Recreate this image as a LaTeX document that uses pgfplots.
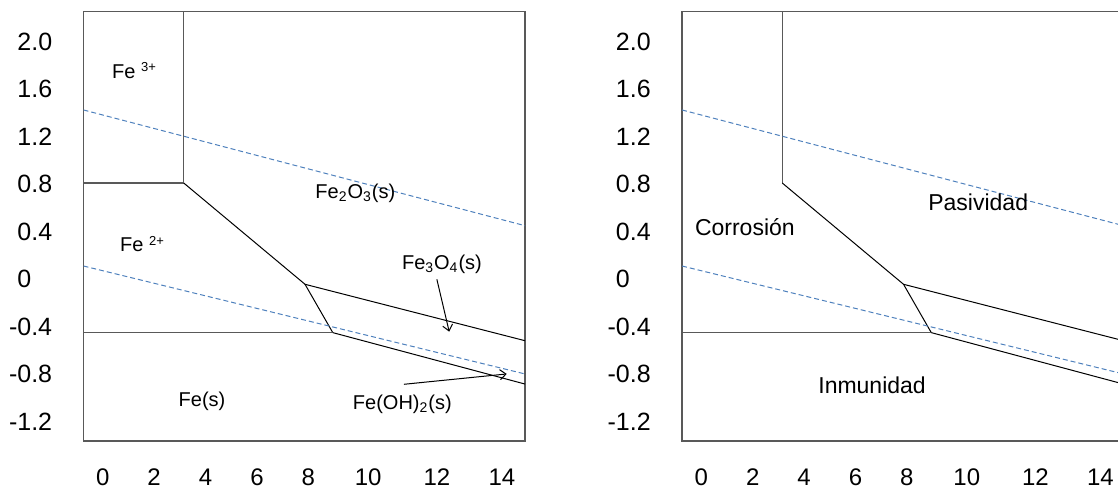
\documentclass[border=0pt]{standalone}
\usepackage{fontspec}
\setmainfont{Liberation Sans}
\usepackage{pgfplots}
\pgfplotsset{compat=1.18}
\usetikzlibrary{arrows.meta}

\definecolor{frame}{RGB}{89,89,89}
\definecolor{water}{RGB}{79,129,189}

% superscript charge as in the drawing: "Fe 3+"
\newcommand{\ion}[1]{Fe\ \raisebox{3.2pt}{\fontsize{6.5}{7}\selectfont #1}}

\tikzset{
  lab/.style={anchor=base west, inner sep=0pt, font=\fontsize{10}{12}\selectfont},
  region/.style={anchor=base west, inner sep=0pt, font=\fontsize{11.5}{13}\selectfont},
}

\pgfplotsset{
  pourbaix/.style={
    anchor=south west,
    scale only axis,
    width=220.75pt, height=214.65pt,
    xmin=-0.75, xmax=16.43,
    ymin=-1.3625, ymax=2.2526,
    axis line style={draw=frame, line width=0.6pt},
    major tick length=0pt,
    tick label style={inner sep=0pt},
    xtick={0,2,4,6,8,10.33,13.0,15.53},
    xticklabels={0,2,4,6,8,10,12,14},
    xticklabel style={anchor=north, yshift=-13.75pt, font=\fontsize{12}{14}\selectfont},
    ytick={-1.2,-0.8,-0.4,0,0.4,0.8,1.2,1.6,2.0},
    yticklabels={\llap{-}1.2,\llap{-}0.8,\llap{-}0.4,0,0.4,0.8,1.2,1.6,2.0},
    yticklabel style={anchor=west, xshift=-33.25pt, font=\fontsize{12.5}{14}\selectfont},
  },
  bnd/.style={draw=frame, line width=0.6pt, no marks},
  diag/.style={draw=black, line width=0.5pt, no marks},
  h2o/.style={draw=water, line width=0.5pt, dash pattern=on 2.5pt off 1.5pt, no marks},
}

\begin{document}
\begin{tikzpicture}

% ---- left: species ----
\begin{axis}[pourbaix, at={(41.75pt,24.5pt)}]
\addplot[bnd] coordinates {(3.15,2.3) (3.15,0.81)};
\addplot[bnd] coordinates {(-0.75,0.81) (3.15,0.81)};
\addplot[diag] coordinates {(3.15,0.81) (7.87,-0.043) (8.95,-0.45)};
\addplot[bnd] coordinates {(-0.75,-0.45) (8.95,-0.45)};
\addplot[diag] coordinates {(7.87,-0.043) (16.43,-0.518)};
\addplot[diag] coordinates {(8.95,-0.45) (16.43,-0.883)};
\addplot[h2o] coordinates {(-0.75,1.425) (16.43,0.4505)};
\addplot[h2o] coordinates {(-0.75,0.111) (16.43,-0.798)};

\node[lab] at (axis cs:0.35,1.694) {\ion{3+}};
\node[lab] at (axis cs:0.66,0.232) {\ion{2+}};
\node[lab] at (axis cs:2.94,-1.074) {Fe(s)};
\node[lab] at (axis cs:8.26,0.681) {Fe\textsubscript{2}O\textsubscript{3}(s)};
\node[lab] at (axis cs:11.63,0.083) {Fe\textsubscript{3}O\textsubscript{4}(s)};
\node[lab] at (axis cs:9.72,-1.101) {Fe(OH)\textsubscript{2}(s)};
\draw[line width=0.5pt, -{Straight Barb[length=3pt,width=5pt]}]
  (axis cs:13.0,-0.001) -- (axis cs:13.48,-0.442);
\draw[line width=0.5pt, -{Straight Barb[length=3pt,width=5pt]}]
  (axis cs:11.72,-0.885) -- (axis cs:15.72,-0.798);
\end{axis}

% ---- right: regions ----
\begin{axis}[pourbaix, at={(341pt,24.5pt)}]
\addplot[bnd] coordinates {(3.15,2.3) (3.15,0.81)};
\addplot[diag] coordinates {(3.15,0.81) (7.87,-0.043) (8.95,-0.45)};
\addplot[bnd] coordinates {(-0.75,-0.45) (8.95,-0.45)};
\addplot[diag] coordinates {(7.87,-0.043) (16.43,-0.518)};
\addplot[diag] coordinates {(8.95,-0.45) (16.43,-0.883)};
\addplot[h2o] coordinates {(-0.75,1.425) (16.43,0.4505)};
\addplot[h2o] coordinates {(-0.75,0.111) (16.43,-0.798)};

\node[region] at (axis cs:-0.26,0.372) {Corrosión};
\node[region] at (axis cs:8.82,0.577) {Pasividad};
\node[region] at (axis cs:4.54,-0.961) {Inmunidad};
\end{axis}

\pgfresetboundingbox
\useasboundingbox (0,0) rectangle (559pt,245pt);
\end{tikzpicture}
\end{document}
